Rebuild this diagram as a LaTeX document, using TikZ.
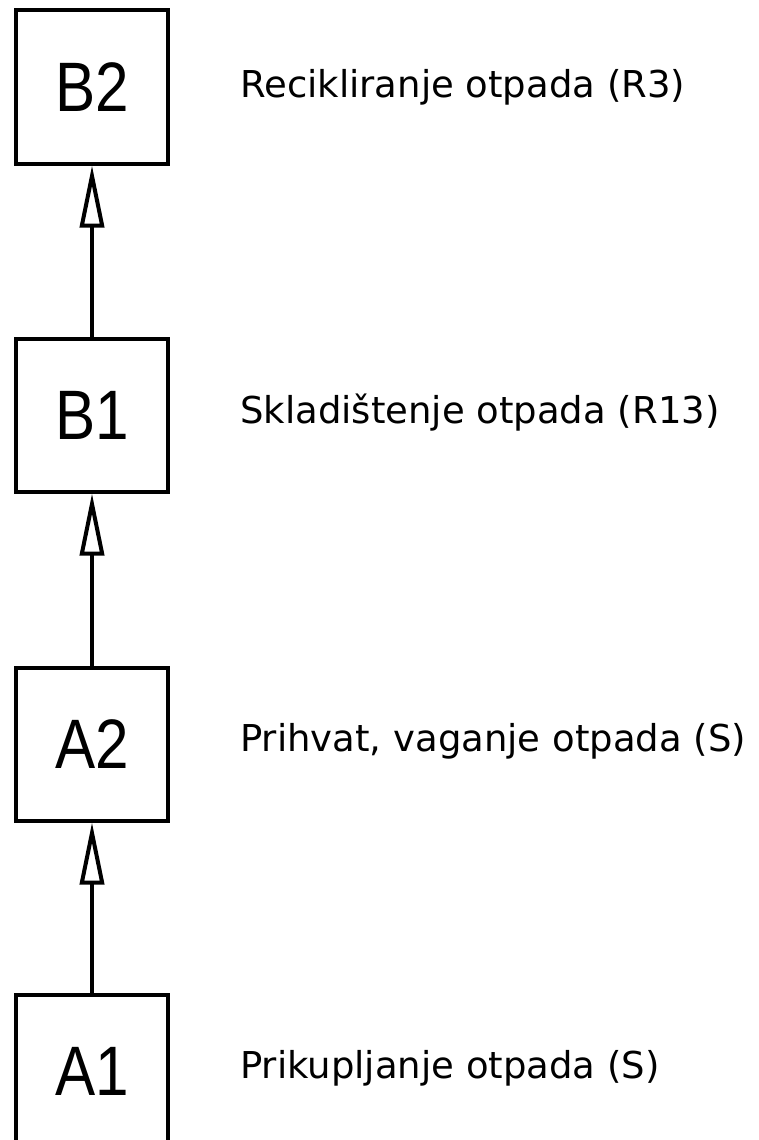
\documentclass[tikz,border=0pt]{standalone}
\usepackage{fontspec}
\usepackage{graphicx}
\setmainfont{DejaVu Sans}
\newfontfamily\boxfont{Liberation Sans}
\usetikzlibrary{arrows.meta}
\newcommand{\stagelbl}[1]{\scalebox{0.86}[1]{#1}}
\begin{document}
\begin{tikzpicture}[x=1pt,y=-1pt,
  stage/.style={draw=black,line width=4pt,minimum width=152pt,minimum height=153pt,inner sep=0pt,font=\boxfont\fontsize{70}{70}\selectfont},
  desc/.style={anchor=base west,inner sep=0pt,font=\fontsize{37}{37}\selectfont},
  flow/.style={line width=4pt,-{Triangle[open,length=62pt,width=24pt,line width=4pt]}}]
\useasboundingbox (0,0) rectangle (758,1140);
\begin{scope}
\clip (0,0) rectangle (758,1140);
\node[stage] (b2) at (92,87) {\stagelbl{B2}};
\node[stage] (b1) at (92,415) {\stagelbl{B1}};
\node[stage] (a2) at (92,744) {\stagelbl{A2}};
\node[stage,minimum height=170pt,anchor=north] (a1) at (92,993) {};
\node[font=\boxfont\fontsize{70}{70}\selectfont,inner sep=0pt] (a1l) at (92,1071) {\stagelbl{A1}};
\end{scope}
\draw[flow] (a1.north) -- (a2.south);
\draw[flow] (a2.north) -- (b1.south);
\draw[flow] (b1.north) -- (b2.south);
\node[desc] (t4) at (240,97) {Recikliranje otpada (R3)};
\node[desc] (t3) at (240,423) {Skladištenje otpada (R13)};
\node[desc] (t2) at (240,751) {Prihvat, vaganje otpada (S)};
\node[desc] (t1) at (240,1078) {Prikupljanje otpada (S)};
\end{tikzpicture}
\end{document}
